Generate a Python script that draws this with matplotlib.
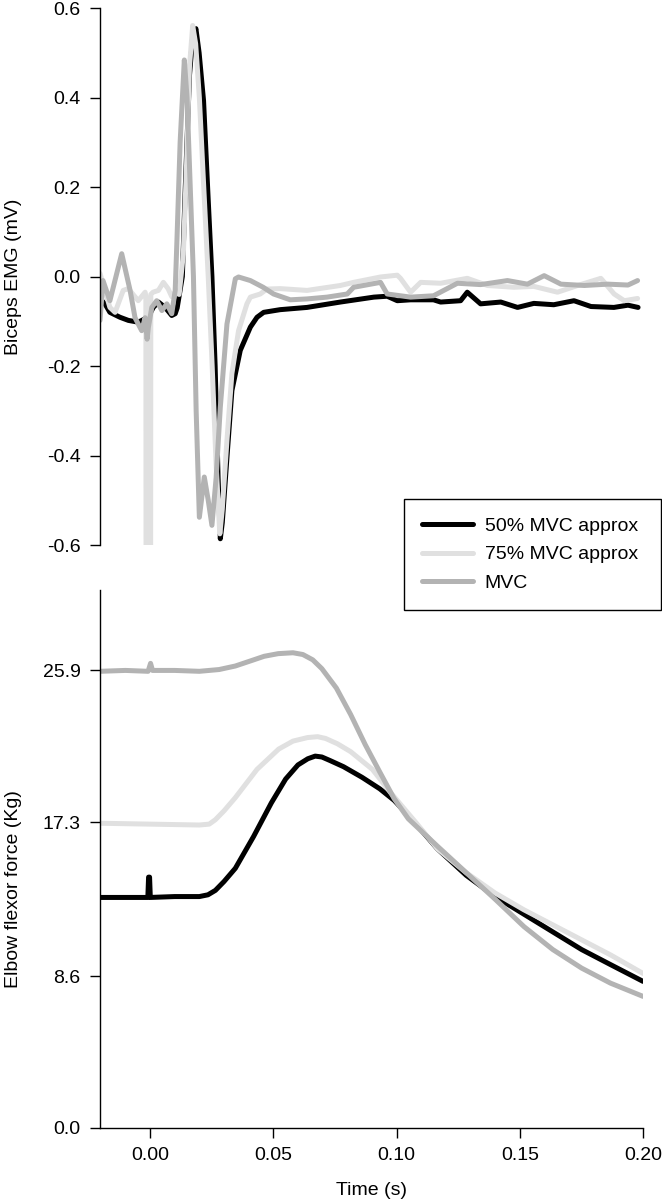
import matplotlib
matplotlib.use("Agg")
import matplotlib.pyplot as plt

plt.rcParams['font.family'] = ['Liberation Sans', 'DejaVu Sans']
plt.rcParams['axes.unicode_minus'] = False

names = ['50% MVC approx', '75% MVC approx', 'MVC']
colors = ['#000000', '#e0e0e0', '#b3b3b3']

# biceps EMG (mV), time in s
emg_t_50 = [-0.0203, -0.0183, -0.0163, -0.0122, -0.0088, -0.0048, -0.0008, 0.0013, 0.0034, 0.0061,
            0.0088, 0.0102, 0.0110, 0.0122, 0.0131, 0.0143, 0.0160, 0.0172, 0.0186, 0.0199,
            0.0217, 0.0236, 0.0251, 0.0264, 0.0276, 0.0285, 0.0293, 0.0312, 0.0332, 0.0366,
            0.0407, 0.0434, 0.0461, 0.0528, 0.0637, 0.0772, 0.0908, 0.0962, 0.1003, 0.1057,
            0.1150, 0.1179, 0.1260, 0.1287, 0.1341, 0.1423, 0.1491, 0.1557, 0.1638, 0.1720,
            0.1789, 0.1882, 0.1939, 0.1980]
emg_v_50 = [-0.050, -0.061, -0.080, -0.091, -0.098, -0.102, -0.091, -0.069, -0.057, -0.069,
            -0.087, -0.083, -0.070, -0.030, 0.000, 0.200, 0.450, 0.530, 0.554, 0.500,
            0.393, 0.170, 0.000, -0.200, -0.450, -0.586, -0.550, -0.404, -0.255, -0.165,
            -0.113, -0.091, -0.080, -0.074, -0.069, -0.057, -0.046, -0.044, -0.054, -0.052,
            -0.052, -0.057, -0.054, -0.035, -0.061, -0.057, -0.069, -0.060, -0.063, -0.054,
            -0.067, -0.069, -0.064, -0.069]

emg_t_75 = [-0.0203, -0.0191, -0.0163, -0.0142, -0.0109, -0.0088, -0.0048, -0.0020, -0.0017, -0.0016,
            0.0002, 0.0003, 0.0012, 0.0034, 0.0054, 0.0073, 0.0088, 0.0102, 0.0118, 0.0135,
            0.0148, 0.0160, 0.0173, 0.0185, 0.0200, 0.0216, 0.0236, 0.0252, 0.0268, 0.0283,
            0.0293, 0.0312, 0.0332, 0.0359, 0.0393, 0.0407, 0.0447, 0.0474, 0.0528, 0.0637,
            0.0772, 0.0826, 0.0935, 0.1003, 0.1016, 0.1057, 0.1098, 0.1179, 0.1287, 0.1369,
            0.1476, 0.1557, 0.1653, 0.1735, 0.1829, 0.1883, 0.1924, 0.1978]
emg_v_75 = [0.007, -0.016, -0.069, -0.080, -0.031, -0.027, -0.054, -0.035, -0.045, -0.950,
            -0.950, -0.040, -0.035, -0.031, -0.013, -0.027, -0.045, -0.035, -0.040, 0.050,
            0.250, 0.470, 0.561, 0.520, 0.400, 0.220, 0.000, -0.200, -0.420, -0.575,
            -0.520, -0.366, -0.217, -0.121, -0.061, -0.046, -0.039, -0.028, -0.027, -0.031,
            -0.020, -0.013, -0.001, 0.003, -0.004, -0.035, -0.013, -0.015, -0.004, -0.020,
            -0.024, -0.022, -0.035, -0.020, -0.004, -0.039, -0.054, -0.049]

emg_t_mvc = [-0.0203, -0.0191, -0.0163, -0.0115, -0.0081, -0.0061, -0.0034, -0.0020, -0.0012, -0.0007,
             0.0007, 0.0027, 0.0048, 0.0068, 0.0088, 0.0102, 0.0109, 0.0122, 0.0139, 0.0150,
             0.0163, 0.0176, 0.0187, 0.0200, 0.0220, 0.0236, 0.0251, 0.0268, 0.0285, 0.0312,
             0.0346, 0.0359, 0.0407, 0.0459, 0.0501, 0.0569, 0.0637, 0.0718, 0.0800, 0.0826,
             0.0935, 0.0962, 0.1057, 0.1150, 0.1247, 0.1341, 0.1450, 0.1531, 0.1599, 0.1667,
             0.1762, 0.1857, 0.1939, 0.1978]
emg_v_mvc = [-0.098, -0.009, -0.054, 0.051, -0.031, -0.092, -0.121, -0.092, -0.140, -0.114,
             -0.069, -0.054, -0.076, -0.061, -0.083, -0.031, 0.080, 0.300, 0.484, 0.400,
             0.200, 0.000, -0.300, -0.538, -0.448, -0.500, -0.556, -0.450, -0.292, -0.106,
             -0.005, -0.001, -0.009, -0.024, -0.039, -0.052, -0.050, -0.046, -0.039, -0.024,
             -0.013, -0.039, -0.046, -0.043, -0.015, -0.018, -0.009, -0.017, 0.002, -0.017,
             -0.020, -0.017, -0.019, -0.009]

# elbow flexor force (Kg)
force_t_50 = [-0.0203, -0.0100, -0.0009, -0.0006, -0.0002, 0.0001, 0.0100, 0.0200, 0.0235, 0.0265,
              0.0300, 0.0346, 0.0420, 0.0492, 0.0550, 0.0600, 0.0640, 0.0670, 0.0697, 0.0730,
              0.0785, 0.0860, 0.0932, 0.0990, 0.1048, 0.1166, 0.1283, 0.1400, 0.1517, 0.1634,
              0.1751, 0.1868, 0.2000]
force_f_50 = [13.05, 13.05, 13.05, 14.2, 14.2, 13.05, 13.1, 13.1, 13.2, 13.45,
              13.95, 14.7, 16.5, 18.4, 19.75, 20.55, 20.9, 21.05, 21.0, 20.8,
              20.45, 19.85, 19.2, 18.55, 17.7, 15.8, 14.3, 13.1, 12.1, 11.1,
              10.1, 9.25, 8.3]

force_t_75 = [-0.0203, 0.0000, 0.0200, 0.0240, 0.0265, 0.0300, 0.0346, 0.0434, 0.0522, 0.0580,
              0.0639, 0.0680, 0.0712, 0.0760, 0.0814, 0.0902, 0.0975, 0.1078, 0.1166, 0.1283,
              0.1400, 0.1517, 0.1634, 0.1751, 0.1868, 0.2000]
force_f_75 = [17.25, 17.2, 17.15, 17.2, 17.45, 17.95, 18.7, 20.3, 21.45, 21.9,
              22.1, 22.15, 22.05, 21.75, 21.3, 20.3, 19.0, 17.3, 15.8, 14.45,
              13.3, 12.35, 11.5, 10.65, 9.8, 8.75]

force_t_mvc = [-0.0203, -0.0100, -0.0008, 0.0002, 0.0010, 0.0100, 0.0200, 0.0280, 0.0346, 0.0410,
               0.0463, 0.0520, 0.0580, 0.0620, 0.0660, 0.0697, 0.0756, 0.0814, 0.0873, 0.0932,
               0.0990, 0.1048, 0.1166, 0.1283, 0.1400, 0.1517, 0.1634, 0.1751, 0.1868, 0.2000]
force_f_mvc = [25.85, 25.9, 25.85, 26.3, 25.9, 25.9, 25.85, 25.95, 26.15, 26.45,
               26.7, 26.85, 26.9, 26.8, 26.5, 26.0, 24.9, 23.4, 21.7, 20.15,
               18.65, 17.5, 15.95, 14.45, 12.95, 11.4, 10.1, 9.05, 8.2, 7.45]

emg_ticks = [-0.6, -0.4, -0.2, 0.0, 0.2, 0.4, 0.6]
force_ticks = [0.0, 8.6, 17.3, 25.9]
time_ticks = [0.00, 0.05, 0.10, 0.15, 0.20]

fs = 14
lw = 3.6

fig = plt.figure(figsize=(6.62, 12), dpi=100)
ax1 = fig.add_axes([0.1511, 0.5458, 0.8202, 0.4475])
ax2 = fig.add_axes([0.1511, 0.06, 0.8202, 0.4483])

emg = [(emg_t_50, emg_v_50), (emg_t_75, emg_v_75), (emg_t_mvc, emg_v_mvc)]
force = [(force_t_50, force_f_50), (force_t_75, force_f_75), (force_t_mvc, force_f_mvc)]

handles = []
for (t, v), c, n in zip(emg, colors, names):
    h, = ax1.plot(t, v, color=c, lw=lw, solid_capstyle='round', solid_joinstyle='round', label=n)
    handles.append(h)
for (t, f), c in zip(force, colors):
    ax2.plot(t, f, color=c, lw=lw, solid_capstyle='round', solid_joinstyle='round')

for ax in (ax1, ax2):
    ax.set_xlim(-0.0203, 0.2)
    for s in ('top', 'right'):
        ax.spines[s].set_visible(False)
    ax.spines['left'].set_linewidth(1.0)
    ax.tick_params(labelsize=fs, length=7, width=1.0, pad=7)

ax1.set_ylim(-0.6, 0.6)
ax1.spines['bottom'].set_visible(False)
ax1.set_xticks([])
ax1.set_yticks(emg_ticks)
ax1.set_yticklabels(['%.1f' % v for v in emg_ticks])
ax1.set_ylabel('Biceps EMG (mV)', fontsize=fs)
ax1.yaxis.set_label_coords(-0.144, 0.5)

ax2.set_ylim(0, 30.45)
ax2.spines['bottom'].set_linewidth(1.0)
ax2.set_yticks(force_ticks)
ax2.set_yticklabels(['%.1f' % v for v in force_ticks])
ax2.set_xticks(time_ticks)
ax2.set_xticklabels(['%.2f' % v for v in time_ticks])
ax2.set_ylabel('Elbow flexor force (Kg)', fontsize=fs)
ax2.yaxis.set_label_coords(-0.144, 0.444)
ax2.set_xlabel('Time (s)', fontsize=fs)
ax2.xaxis.set_label_coords(0.5, -0.1004)
ax2.xaxis.label.set_va('top')

leg = fig.legend(handles=handles, labels=names, loc='upper left',
                 bbox_to_anchor=(404 / 662, 1 - 611 / 1200, 257 / 662, 112 / 1200),
                 bbox_transform=fig.transFigure, mode='expand', borderaxespad=0,
                 fontsize=fs, handlelength=2.6, handletextpad=0.6, labelspacing=0.55,
                 borderpad=0.95, fancybox=False, framealpha=1)
leg.get_frame().set_edgecolor('black')
leg.get_frame().set_linewidth(1.0)

fig.savefig('out.png', dpi=100)
